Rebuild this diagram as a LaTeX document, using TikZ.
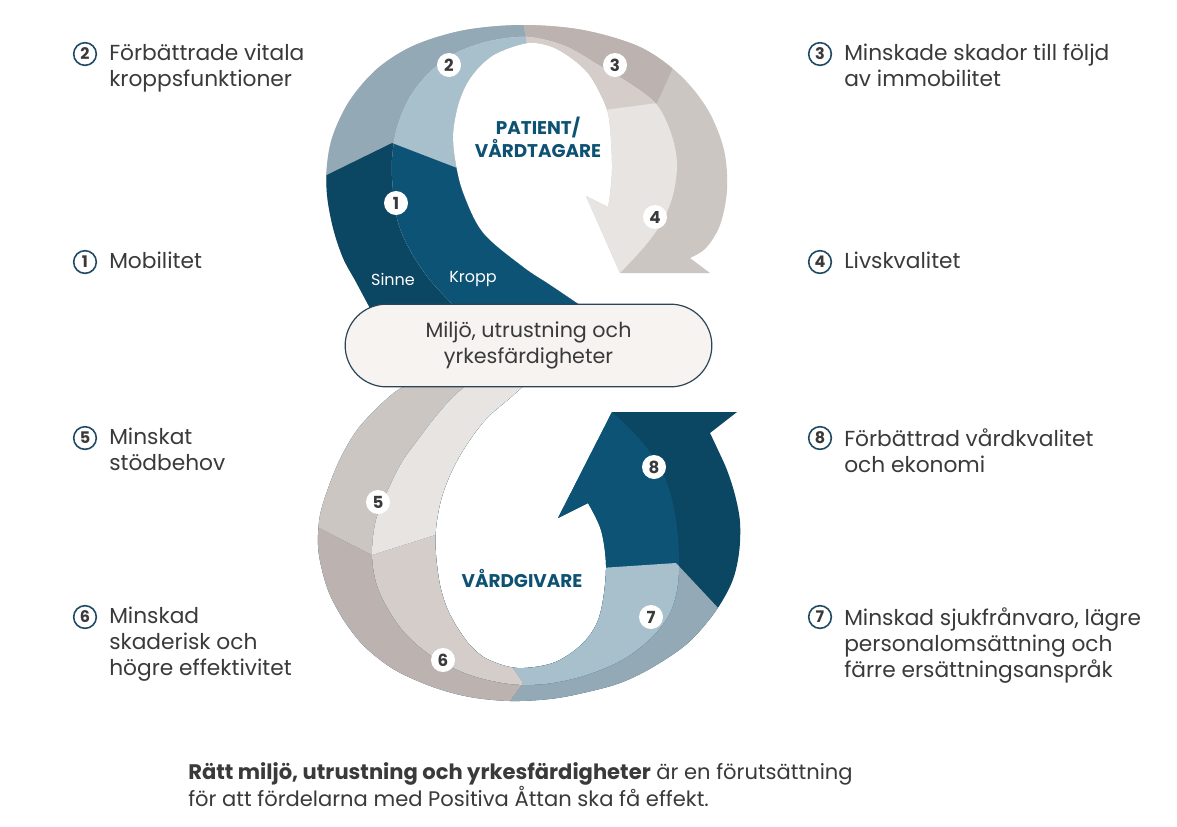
\documentclass[tikz,border=0pt]{standalone}
\usepackage{fontspec}
\setmainfont{Poppins}
\definecolor{txt}{HTML}{3A3A3A}
\definecolor{ttl}{HTML}{0D5272}
\definecolor{ring}{HTML}{1F4A64}
\definecolor{aO}{HTML}{0B4662}\definecolor{aI}{HTML}{0C5375}
\definecolor{bO}{HTML}{93A9B6}\definecolor{bI}{HTML}{A8BFCC}
\definecolor{cO}{HTML}{BCB3B0}\definecolor{cI}{HTML}{D5CDCA}
\definecolor{dO}{HTML}{CCC6C3}\definecolor{dI}{HTML}{E8E4E1}
\definecolor{boxfill}{HTML}{F6F3F1}
\definecolor{boxline}{HTML}{2B4457}
\begin{document}
\begin{tikzpicture}[x=0.75pt,y=-0.75pt,
  badge/.style={circle,fill=white,minimum size=18pt,inner sep=0pt,text=txt,font=\bfseries\fontsize{12.5}{12.5}\selectfont},
  ringnum/.style={circle,draw=ring,line width=1.2pt,minimum size=17pt,inner sep=0pt,text=txt,font=\bfseries\fontsize{12}{12}\selectfont},
  lbl/.style={anchor=north west,align=left,inner sep=0pt,text=txt,font=\fontsize{16.3}{19.5}\selectfont},
  title/.style={align=center,inner sep=0pt,text=ttl,font=\bfseries\fontsize{13.8}{15.5}\selectfont},
  small/.style={inner sep=0pt,text=white,font=\fontsize{12}{12}\selectfont}]
\useasboundingbox (0,0) rectangle (1177,826);
\fill[white] (0,0) rectangle (1177,826);

% ---------- top loop: divider points ----------
\coordinate (t12o) at (290,193); \coordinate (t12m) at (392,143); \coordinate (t12i) at (457,168);
\coordinate (t1x) at (520,190); \coordinate (t1y) at (625,320); \coordinate (t1z) at (290,320);
\coordinate (t2x) at (490,150); \coordinate (t23i) at (528,50); \coordinate (t23o) at (519,0); \coordinate (t2z) at (280,0);
\coordinate (t34i) at (580,113); \coordinate (t34m) at (657,103); \coordinate (t34o) at (690,30); \coordinate (t3z) at (760,0);

% full top band (outer tones)
\begin{scope}
\clip plot[smooth,tension=0.55] coordinates {(372,312) (356,282) (343,258) (333,228) (327,195) (327,165) (333,135) (350,100) (378,68) (415,45) (465,30) (523,25) (583,30) (640,47) (680,75) (708,110) (724,150) (727,190) (720,225) (706,248) (690,258)}
  -- (710,273) -- (620,273) -- (586,196)
  -- plot[smooth,tension=0.55] coordinates {(608,207) (610,195) (612,170) (611,140) (608,113) (600,93) (588,73) (570,57) (550,46) (527,43) (497,53) (480,66) (467,83) (458,105) (453,133) (455,160) (463,193) (483,233) (523,267) (550,285) (590,312)} -- cycle;
\fill[dO] (250,0) rectangle (800,330);
\fill[cO] (t23o) -- (t23i) -- (t34i) -- (t34m) -- (t34o) -- (t3z) -- cycle;
\fill[bO] (t12o) -- (t12m) -- (t12i) -- (t2x) -- (t23i) -- (t23o) -- (t2z) -- cycle;
\fill[aO] (t12o) -- (t12m) -- (t12i) -- (t1x) -- (t1y) -- (t1z) -- cycle;
\end{scope}
% inner top band
\begin{scope}
\clip plot[smooth,tension=0.55] coordinates {(460,312) (430,280) (410,250) (398,222) (393,190) (392,160) (397,128) (410,97) (430,72) (456,53) (490,41) (528,37) (565,46) (600,66) (632,85) (657,105) (671,133) (677,163) (673,195) (662,222) (645,246) (620,273)}
  -- (586,196)
  -- plot[smooth,tension=0.55] coordinates {(608,207) (610,195) (612,170) (611,140) (608,113) (600,93) (588,73) (570,57) (550,46) (527,43) (497,53) (480,66) (467,83) (458,105) (453,133) (455,160) (463,193) (483,233) (523,267) (550,285) (590,312)} -- cycle;
\fill[dI] (250,0) rectangle (800,330);
\fill[cI] (t23o) -- (t23i) -- (t34i) -- (t34m) -- (t34o) -- (t3z) -- cycle;
\fill[bI] (t12o) -- (t12m) -- (t12i) -- (t2x) -- (t23i) -- (t23o) -- (t2z) -- cycle;
\fill[aI] (t12o) -- (t12m) -- (t12i) -- (t1x) -- (t1y) -- (t1z) -- cycle;
\end{scope}

% ---------- bottom loop: divider points ----------
\coordinate (b5a) at (290,380); \coordinate (b56o) at (290,513); \coordinate (b56m) at (372,555);
\coordinate (b56i) at (470,524); \coordinate (b5z) at (560,380);
\coordinate (b67i) at (504,655); \coordinate (b67m) at (523,683); \coordinate (b67o) at (493,725); \coordinate (b6z) at (290,725);
\coordinate (b78i) at (570,570); \coordinate (b78m) at (676,563); \coordinate (b78o) at (750,642); \coordinate (b7z) at (760,725);

\begin{scope}
\clip plot[smooth,tension=0.55] coordinates {(415,380) (395,392) (375,410) (357,430) (342,455) (330,483) (320,515) (318,545) (322,570) (330,595) (345,622) (365,647) (395,670) (433,687) (470,697) (510,701) (550,699) (583,693) (620,683) (653,667) (688,643) (715,612) (732,582) (739,553) (740,522) (735,495) (727,470) (718,450) (710,433)}
  -- (737,412) -- (612,412) -- (558,518)
  -- plot[smooth,tension=0.55] coordinates {(588,503) (601,530) (606,565) (603,600) (596,625) (580,646) (553,663) (517,668) (487,659) (470,645) (457,627) (447,608) (440,585) (436,555) (436,528) (441,500) (450,475) (462,452) (477,430) (490,415) (510,398) (530,380)} -- cycle;
\fill[aO] (250,370) rectangle (800,740);
\fill[bO] (b67i) -- (b67m) -- (b67o) -- (b7z) -- (b78o) -- (b78m) -- (b78i) -- cycle;
\fill[cO] (b56o) -- (b56m) -- (b56i) -- (b67i) -- (b67m) -- (b67o) -- (b6z) -- cycle;
\fill[dO] (b5a) -- (b56o) -- (b56m) -- (b56i) -- (b5z) -- cycle;
\end{scope}
\begin{scope}
\clip plot[smooth,tension=0.55] coordinates {(474,380) (455,395) (437,415) (420,437) (402,462) (388,490) (376,520) (372,553) (376,582) (387,607) (405,633) (433,657) (470,675) (510,684) (545,684) (580,677) (610,666) (633,653) (655,634) (670,613) (677,590) (679,565) (677,528) (670,492) (657,462) (635,434) (612,412)}
  -- (558,518)
  -- plot[smooth,tension=0.55] coordinates {(588,503) (601,530) (606,565) (603,600) (596,625) (580,646) (553,663) (517,668) (487,659) (470,645) (457,627) (447,608) (440,585) (436,555) (436,528) (441,500) (450,475) (462,452) (477,430) (490,415) (510,398) (530,380)} -- cycle;
\fill[aI] (250,370) rectangle (800,740);
\fill[bI] (b67i) -- (b67m) -- (b67o) -- (b7z) -- (b78o) -- (b78m) -- (b78i) -- cycle;
\fill[cI] (b56o) -- (b56m) -- (b56i) -- (b67i) -- (b67m) -- (b67o) -- (b6z) -- cycle;
\fill[dI] (b5a) -- (b56o) -- (b56m) -- (b56i) -- (b5z) -- cycle;
\end{scope}

% ---------- centre box ----------
\node[draw=boxline,fill=boxfill,line width=0.9pt,rounded corners=31pt,minimum width=275pt,minimum height=62pt,
  align=center,text=txt,font=\fontsize{15.5}{19}\selectfont] (box) at (528.5,345.5)
  {Miljö, utrustning och\\yrkesfärdigheter};

% ---------- badges on the loops ----------
\node[badge] (n1) at (396,203) {1};
\node[badge] (n2) at (449,65) {2};
\node[badge] (n3) at (615,65) {3};
\node[badge] (n4) at (655,217) {4};
\node[badge] (n5) at (378,502) {5};
\node[badge] (n6) at (443,660) {6};
\node[badge] (n7) at (651,617) {7};
\node[badge] (n8) at (654,467) {8};

\node[small] (sinne) at (393,279) {Sinne};
\node[small] (kropp) at (473,279) {Kropp};
\node[title] (pat) at (538,137) {PATIENT/\\VÅRDTAGARE};
\node[title] (giv) at (522,578) {VÅRDGIVARE};

% ---------- side labels ----------
\node[ringnum] (r2) at (85,54) {2};
\node[lbl] (l2) at (109,44) {Förbättrade vitala\\kroppsfunktioner};
\node[ringnum] (r1) at (85,262) {1};
\node[lbl] (l1) at (109,252) {Mobilitet};
\node[ringnum] (r5) at (85,438) {5};
\node[lbl] (l5) at (109,428) {Minskat\\stödbehov};
\node[ringnum] (r6) at (85,617) {6};
\node[lbl] (l6) at (109,607) {Minskad\\skaderisk och\\högre effektivitet};

\node[ringnum] (r3) at (820,54) {3};
\node[lbl] (l3) at (844,44) {Minskade skador till följd\\av immobilitet};
\node[ringnum] (r4) at (820,262) {4};
\node[lbl] (l4) at (844,252) {Livskvalitet};
\node[ringnum] (r8) at (820,438) {8};
\node[lbl] (l8) at (844,428) {Förbättrad vårdkvalitet\\och ekonomi};
\node[ringnum] (r7) at (820,617) {7};
\node[lbl] (l7) at (844,607) {Minskad sjukfrånvaro, lägre\\personalomsättning och\\färre ersättningsanspråk};

% ---------- footnote ----------
\node[lbl,font=\fontsize{15.8}{19.5}\selectfont] (foot) at (188,762) {\textbf{Rätt miljö, utrustning och yrkesfärdigheter} är en förutsättning\\för att fördelarna med Positiva Åttan ska få effekt.};
\end{tikzpicture}
\end{document}
